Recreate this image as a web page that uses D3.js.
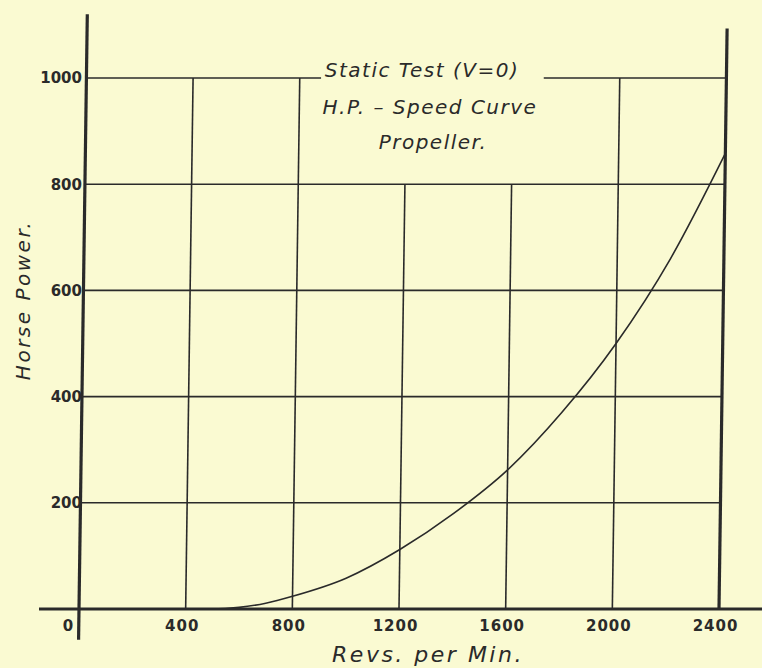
<!DOCTYPE html>
<html>
<head>
<meta charset="utf-8">
<script src="https://cdn.jsdelivr.net/npm/d3@7"></script>
<style>
  html, body { margin: 0; padding: 0; background: #fafad2; }
  svg { display: block; }
  text { font-family: "DejaVu Sans", sans-serif; fill: #2a2a2a; }
</style>
</head>
<body>
<div id="chart"></div>
<script>
// data
const revs = [400, 500, 600, 700, 800, 1000, 1200, 1400, 1600, 1800, 2000, 2200, 2400];
const horsePower = [0, 0, 3, 11, 24, 58, 112, 180, 262, 370, 500, 660, 858];
const xTicks = [0, 400, 800, 1200, 1600, 2000, 2400];
const yTicks = [200, 400, 600, 800, 1000];
const titleLines = ['Static Test (V=0)', 'H.P. – Speed Curve', 'Propeller.'];

const width = 762;
const height = 668;
const ink = '#2a2a2a';

const svg = d3.select('#chart')
  .append('svg')
  .attr('width', width)
  .attr('height', height)
  .attr('viewBox', [0, 0, width, height])

svg.append('rect')
  .attr('width', width)
  .attr('height', height)
  .attr('fill', '#fafad2')

const x = d3.scaleLinear()
  .domain([0, 2400])
  .range([79, 719])

const y = d3.scaleLinear()
  .domain([0, 1000])
  .range([609, 78])

// the hand drawn grid leans a little to the right
const graph = svg.append('g')
  .attr('transform', `translate(0,${y(0)}) skewX(-0.8) translate(0,${-y(0)})`)

// horizontal grid lines (1000 line broken by the title)
yTicks.forEach(v => {
  if (v === 1000) {
    graph.append('line')
      .attr('x1', x(0)).attr('x2', x(880))
      .attr('y1', y(v)).attr('y2', y(v))
      .attr('stroke', ink).attr('stroke-width', 1.6)
    graph.append('line')
      .attr('x1', x(1715)).attr('x2', x(2400))
      .attr('y1', y(v)).attr('y2', y(v))
      .attr('stroke', ink).attr('stroke-width', 1.6)
  } else {
    graph.append('line')
      .attr('x1', x(0)).attr('x2', x(2400))
      .attr('y1', y(v)).attr('y2', y(v))
      .attr('stroke', ink).attr('stroke-width', 1.6)
  }
})

// vertical grid lines (1200 and 1600 stop under the title)
xTicks.filter(v => v > 0 && v < 2400).forEach(v => {
  const top = (v === 1200 || v === 1600) ? 800 : 1000;
  graph.append('line')
    .attr('x1', x(v)).attr('x2', x(v))
    .attr('y1', y(top)).attr('y2', y(0))
    .attr('stroke', ink).attr('stroke-width', 1.6)
})

// heavy axes
graph.append('line')
  .attr('x1', x(0)).attr('x2', x(0))
  .attr('y1', y(1120)).attr('y2', y(-58))
  .attr('stroke', ink).attr('stroke-width', 3.2)
graph.append('line')
  .attr('x1', x(2400)).attr('x2', x(2400))
  .attr('y1', y(1093)).attr('y2', y(0))
  .attr('stroke', ink).attr('stroke-width', 3.2)
svg.append('line')
  .attr('x1', x(-150)).attr('x2', width)
  .attr('y1', y(0)).attr('y2', y(0))
  .attr('stroke', ink).attr('stroke-width', 3.2)

// the curve
const line = d3.line()
  .x((d, i) => x(revs[i]))
  .y(d => y(d))
  .curve(d3.curveMonotoneX)

graph.append('path')
  .attr('fill', 'none')
  .attr('stroke', ink)
  .attr('stroke-width', 1.6)
  .attr('d', line(horsePower))

// tick labels through the axes
const xAxis = d3.axisBottom(x).tickValues(xTicks).tickFormat(d3.format('d')).tickSize(0).tickPadding(0)
const yAxis = d3.axisLeft(y).tickValues(yTicks).tickFormat(d3.format('d')).tickSize(0).tickPadding(0)

const xAxisG = svg.append('g')
  .attr('transform', `translate(-4, ${y(0) + 11})`)
  .call(xAxis)
xAxisG.select('.domain').remove()
xAxisG.selectAll('text')
  .attr('font-size', 15)
  .attr('font-weight', 'bold')
  .attr('fill', ink)
  .attr('dx', d => d === 0 ? -7 : 0)
  .style('font-family', '"DejaVu Sans", sans-serif')
  .style('letter-spacing', '1px')

const yAxisG = svg.append('g')
  .attr('transform', `translate(${x(0) + 3}, 0)`)
  .call(yAxis)
yAxisG.select('.domain').remove()
yAxisG.selectAll('text')
  .attr('font-size', 15)
  .attr('font-weight', 'bold')
  .attr('fill', ink)
  .style('font-family', '"DejaVu Sans", sans-serif')

// titles
const title = svg.append('g')
titleLines.forEach((t, i) => {
  title.append('text')
    .attr('x', [422, 430, 433][i])
    .attr('y', [77, 114, 149][i])
    .attr('text-anchor', 'middle')
    .attr('font-size', 20)
    .attr('font-style', 'italic')
    .style('letter-spacing', '1.5px')
    .text(t)
})

svg.append('text')
  .attr('x', 428)
  .attr('y', 662)
  .attr('text-anchor', 'middle')
  .attr('font-size', 22)
  .attr('font-style', 'italic')
  .style('letter-spacing', '2.5px')
  .text('Revs. per Min.')

svg.append('text')
  .attr('transform', `translate(30, 300) rotate(-90)`)
  .attr('text-anchor', 'middle')
  .attr('font-size', 20)
  .attr('font-style', 'italic')
  .style('letter-spacing', '2.5px')
  .text('Horse Power.')
</script>
</body>
</html>
